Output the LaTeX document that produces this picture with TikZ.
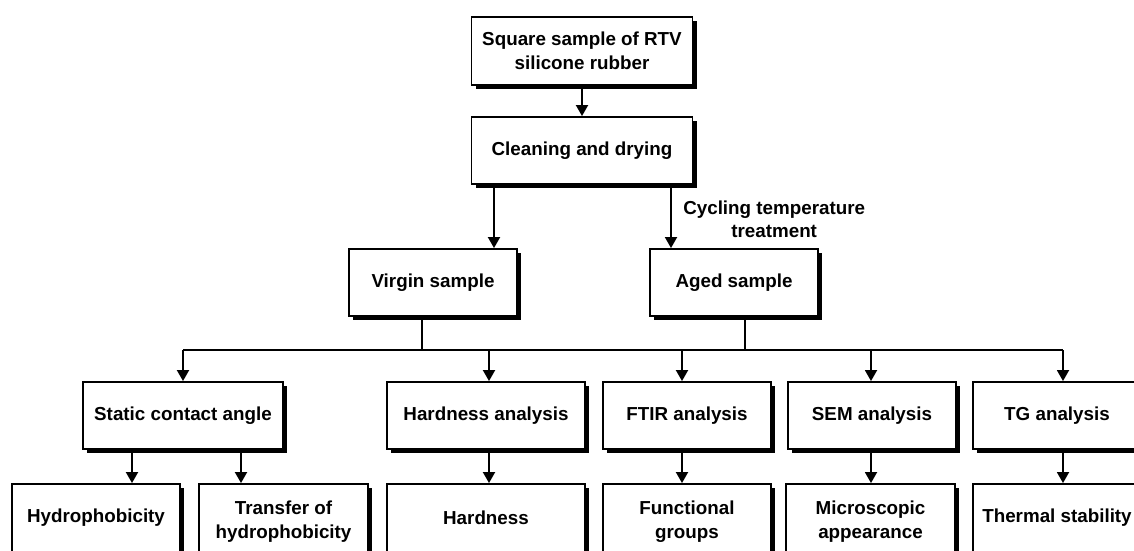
\documentclass[tikz,border=0pt]{standalone}
\usepackage{fontspec}
\setmainfont{Liberation Sans}
\usetikzlibrary{arrows.meta, shadows}

\begin{document}
\begin{tikzpicture}[x=1pt, y=-1pt, font=\fontsize{18.8}{23.5}\selectfont\bfseries,
        box/.style={draw, line width=1.9pt, fill=white, align=center, inner sep=0pt,
            minimum width=168pt, minimum height=67pt,
            drop shadow={shadow xshift=4pt, shadow yshift=-4pt, fill=black, opacity=1}},
        ln/.style={line width=1.9pt},
        arr/.style={line width=1.9pt, -{Triangle[length=11pt, width=12pt]}}]

    \useasboundingbox (0,0) rectangle (1134,550);
    \clip (0,0) rectangle (1134,550);

    % preparation
    \node[box, minimum width=221pt, minimum height=68pt] (rtv) at (582, 51) {Square sample of RTV\\silicone rubber};
    \node[box, minimum width=221pt] (clean) at (582, 150.5) {Cleaning and drying};
    \node[box] (virgin) at (433, 282.5) {Virgin sample};
    \node[box] (aged) at (734, 282.5) {Aged sample};

    % tests
    \node[box, minimum width=200pt] (stat) at (183, 415.5) {Static contact angle};
    \node[box, minimum width=198pt] (hard) at (486, 415.5) {Hardness analysis};
    \node[box] (ftir) at (687, 415.5) {FTIR analysis};
    \node[box] (sem) at (872, 415.5) {SEM analysis};
    \node[box] (tg) at (1057, 415.5) {TG analysis};

    % results
    \node[box, minimum height=68pt] (hydro) at (96, 518) {Hydrophobicity};
    \node[box, minimum width=169pt, minimum height=75pt] (trans) at (283.5, 521.5) {Transfer of\\hydrophobicity};
    \node[box, minimum width=198pt, minimum height=68pt] (hardv) at (486, 518) {Hardness};
    \node[box, minimum height=75pt] (func) at (687, 521.5) {Functional\\groups};
    \node[box, minimum width=169pt, minimum height=75pt] (micro) at (870.5, 521.5) {Microscopic\\appearance};
    \node[box, minimum height=68pt] (therm) at (1057, 518) {Thermal stability};

    \draw[arr] (rtv) -- (clean);
    \draw[arr] (clean.south -| 494,0) -- (virgin.north -| 494,0);
    \draw[arr] (clean.south -| 671,0) -- (aged.north -| 671,0)
        node[midway, right=8pt, yshift=-3pt, align=center] {Cycling temperature\\treatment};

    % bus
    \coordinate (busL) at (183, 350);
    \coordinate (busR) at (1063, 350);
    \draw[ln] (busL) -- (busR);
    \draw[ln] (virgin.south -| 422,0) |- (busL);
    \draw[ln] (aged.south -| 745,0) |- (busR);

    \draw[arr] (busL) -- (stat);
    \draw[arr] (busL -| 489,0) -- (hard.north -| 489,0);
    \draw[arr] (busL -| 682,0) -- (ftir.north -| 682,0);
    \draw[arr] (busL -| 871,0) -- (sem.north -| 871,0);
    \draw[arr] (busR) -- (tg.north -| busR);

    \draw[arr] (stat.south -| 132,0) -- (hydro.north -| 132,0);
    \draw[arr] (stat.south -| 241,0) -- (trans.north -| 241,0);
    \draw[arr] (hard.south -| 489,0) -- (hardv.north -| 489,0);
    \draw[arr] (ftir.south -| 682,0) -- (func.north -| 682,0);
    \draw[arr] (sem.south -| 871,0) -- (micro.north -| 871,0);
    \draw[arr] (tg.south -| 1063,0) -- (therm.north -| 1063,0);

\end{tikzpicture}
\end{document}
